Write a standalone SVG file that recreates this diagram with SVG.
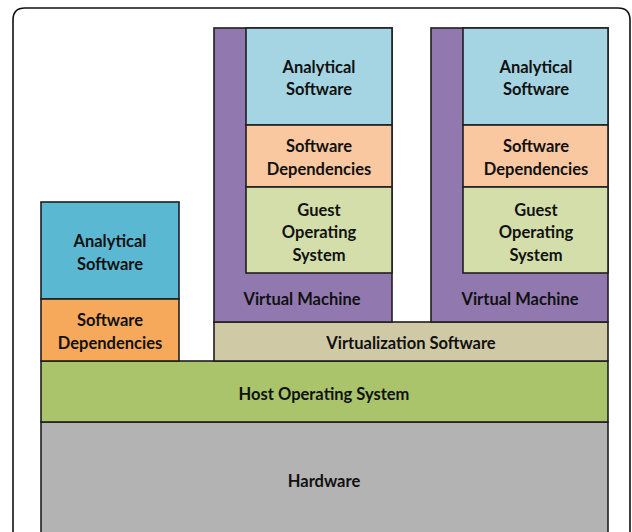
<svg xmlns="http://www.w3.org/2000/svg" width="632" height="532" viewBox="0 0 632 532">
<style>
.b{stroke:#1e1e1e;stroke-width:1.6}
.t{font-family:Lato,"Open Sans","Liberation Sans",sans-serif;font-weight:bold;font-size:16.5px;fill:#111;text-anchor:middle}
.as{fill:#a5d5e3}.sd{fill:#f9c8a0}.go{fill:#d3deaa}.vm{fill:#9179b0}
</style>
<rect width="632" height="532" fill="#fff"/>
<path d="M13 540 V20 Q13 8 25 8 H618 Q630 8 630 20 V540" fill="none" stroke="#111" stroke-width="1.6"/>
<g id="hardware"><rect class="b" x="41" y="422" width="567" height="120" fill="#b3b3b3"/><text class="t" x="324" y="487">Hardware</text></g>
<g id="host-os"><rect class="b" x="41" y="361" width="567" height="61" fill="#a9c46b"/><text class="t" x="324" y="400">Host Operating System</text></g>
<g id="virtualization"><rect class="b" x="214" y="322" width="394" height="39" fill="#cfc9a5"/><text class="t" x="411" y="349">Virtualization Software</text></g>
<g id="left-analytical"><rect class="b" x="41" y="202" width="138" height="97" fill="#5bb8d3"/><text class="t" x="110" y="247">Analytical</text><text class="t" x="110" y="270">Software</text></g>
<g id="left-deps"><rect class="b" x="41" y="299" width="138" height="62" fill="#f6a95a"/><text class="t" x="110" y="326">Software</text><text class="t" x="110" y="349">Dependencies</text></g>
<g id="vm1">
<rect class="b vm" x="214" y="28" width="178" height="294"/>
<text class="t" x="302" y="305">Virtual Machine</text>
<g id="vm1-analytical"><rect class="b as" x="246" y="28" width="146" height="97"/><text class="t" x="319" y="73">Analytical</text><text class="t" x="319" y="95">Software</text></g>
<g id="vm1-deps"><rect class="b sd" x="246" y="125" width="146" height="62"/><text class="t" x="319" y="152">Software</text><text class="t" x="319" y="175">Dependencies</text></g>
<g id="vm1-guest"><rect class="b go" x="246" y="187" width="146" height="86"/><text class="t" x="319" y="216">Guest</text><text class="t" x="319" y="238">Operating</text><text class="t" x="319" y="261">System</text></g>
</g>
<g id="vm2">
<rect class="b vm" x="431" y="28" width="177" height="294"/>
<text class="t" x="520" y="305">Virtual Machine</text>
<g id="vm2-analytical"><rect class="b as" x="463" y="28" width="145" height="97"/><text class="t" x="536" y="73">Analytical</text><text class="t" x="536" y="95">Software</text></g>
<g id="vm2-deps"><rect class="b sd" x="463" y="125" width="145" height="62"/><text class="t" x="536" y="152">Software</text><text class="t" x="536" y="175">Dependencies</text></g>
<g id="vm2-guest"><rect class="b go" x="463" y="187" width="145" height="86"/><text class="t" x="536" y="216">Guest</text><text class="t" x="536" y="238">Operating</text><text class="t" x="536" y="261">System</text></g>
</g>
<g id="connectors"></g>
</svg>
